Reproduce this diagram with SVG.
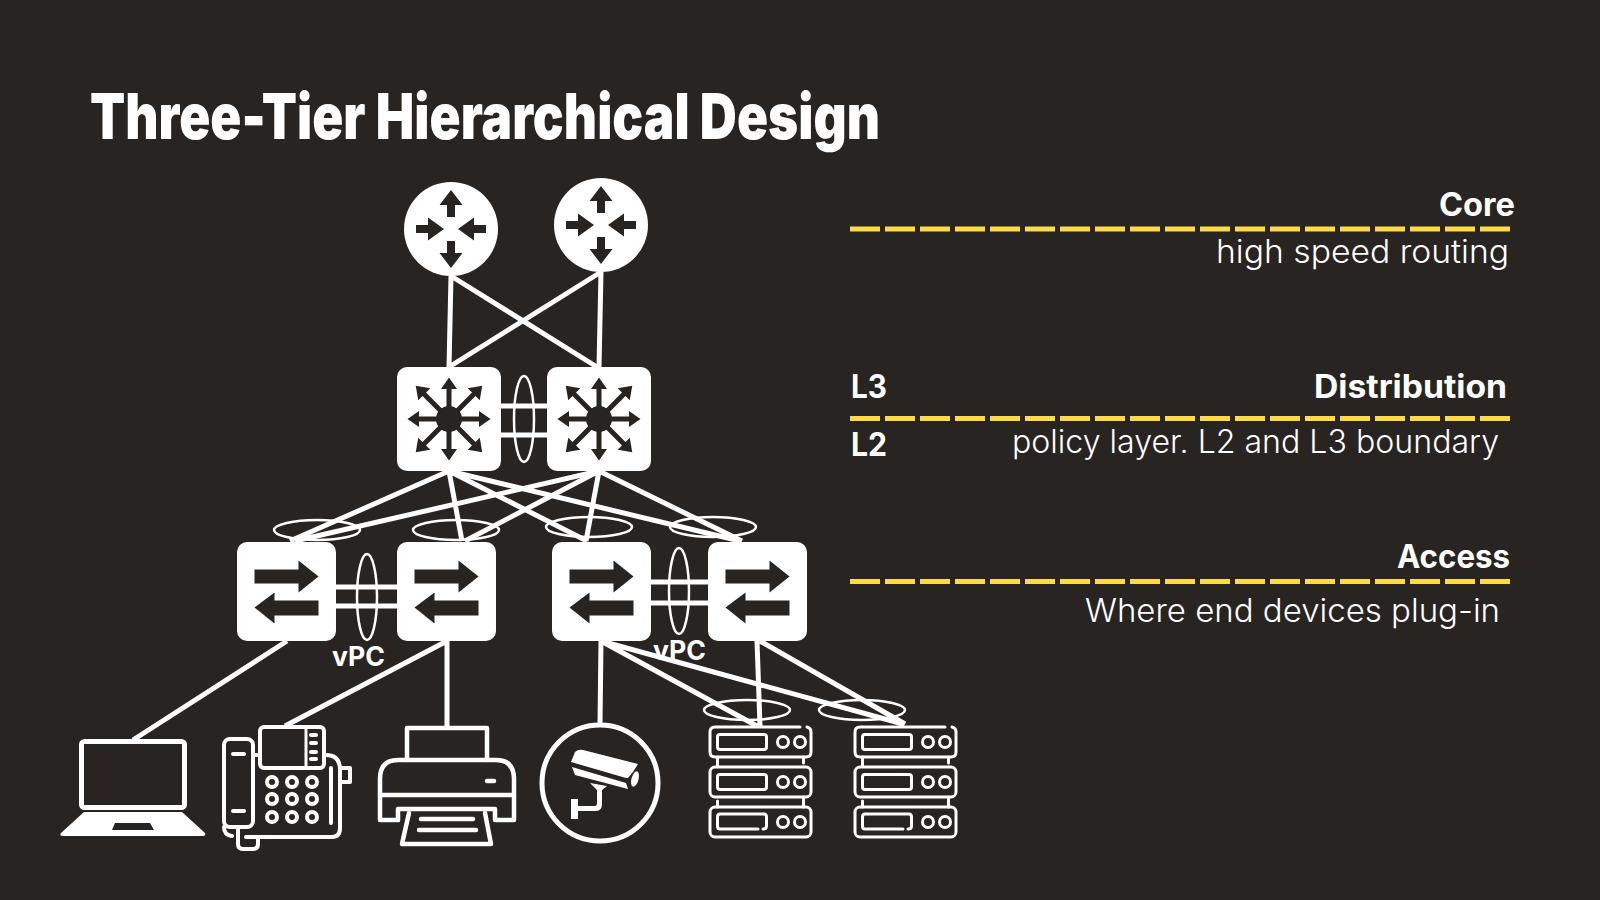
<svg xmlns="http://www.w3.org/2000/svg" width="1600" height="900" viewBox="0 0 1600 900">
<style>
text{fill:#fff;font-family:"Inter","Liberation Sans",sans-serif}
.b{font-weight:700;font-size:32px}
.v{font-weight:700;font-size:27px}
.r{font-weight:300;font-size:32px}
.l{stroke:#fff;stroke-width:5;fill:none}
.e{stroke:#fff;stroke-width:2.500;fill:none}
.d{stroke:#fddb45;stroke-width:5;stroke-dasharray:30 5;fill:none}
.w{fill:#fff}
.k{fill:#272421}
.o{fill:none;stroke:#fff;stroke-width:4;stroke-linejoin:round;stroke-linecap:round}
.s{fill:none;stroke:#fff;stroke-width:3;stroke-linejoin:round;stroke-linecap:round}
</style>
<defs>
<g id="swi"><rect class="w" x="-49.500" y="-49.500" width="99" height="99" rx="10"/>
<path class="k" d="M-32 -22H12V-31L32 -15L12 1V-8H-32Z"/>
<path class="k" d="M32 9H-12V1L-32 16L-12 32V24H32Z"/></g>
<path id="ro" class="k" d="M-4 -12V-24H-11.500L0 -39L11.500 -24H4V-12Z"/>
<path id="ri" class="k" d="M-4 -35V-23H-11.500L0 -7L11.500 -23H4V-35Z"/>
<g id="rt"><circle class="w" r="47"/>
<use href="#ro"/><use href="#ro" transform="rotate(180)"/><use href="#ri" transform="rotate(90)"/><use href="#ri" transform="rotate(270)"/></g>
<path id="da" class="k" d="M-2.500 -10V-30H-8L0 -41.500L8 -30H2.500V-10Z"/>
<path id="dd" class="k" d="M-2.500 -10V-35H-8.500L0 -47L8.500 -35H2.500V-10Z"/>
<g id="ds"><rect class="w" x="-52" y="-52" width="104" height="104" rx="10"/><circle class="k" r="13"/>
<use href="#da"/><use href="#dd" transform="rotate(45)"/><use href="#da" transform="rotate(90)"/><use href="#dd" transform="rotate(135)"/><use href="#da" transform="rotate(180)"/><use href="#dd" transform="rotate(225)"/><use href="#da" transform="rotate(270)"/><use href="#dd" transform="rotate(315)"/></g>
<g id="srv" class="s">
<path d="M91 1H6Q1 1 1 6V26Q1 31 6 31H97Q102 31 102 26V6Q102 2 98 1"/><rect x="8.500" y="8.500" width="49" height="15" rx="2.500"/><circle cx="74" cy="16" r="5.500"/><circle cx="91" cy="16" r="5.500"/>
<path d="M8.500 31V40M94.500 31V37"/>
<rect x="1" y="41" width="101" height="30" rx="5"/><rect x="8.500" y="48.500" width="49" height="15" rx="2.500"/><circle cx="74" cy="56" r="5.500"/><circle cx="91" cy="56" r="5.500"/>
<path d="M8.500 75V81M94.500 71V81"/>
<rect x="1" y="81" width="101" height="30" rx="5"/><path d="M49 103H11Q8.500 103 8.500 100V91Q8.500 88 11 88H55Q57.500 88 57.500 91V100Q57.500 103 54 103"/><circle cx="74" cy="96" r="5.500"/><circle cx="91" cy="96" r="5.500"/>
</g>
</defs>
<rect width="1600" height="900" fill="#272421"/>
<text id="title" x="90" y="138.500" font-size="63" font-weight="900" textLength="790" lengthAdjust="spacingAndGlyphs">Three-Tier Hierarchical Design</text>

<text id="vpc1" class="v" x="332" y="666" textLength="53" lengthAdjust="spacingAndGlyphs">vPC</text>
<text id="vpc2" class="v" x="653" y="660" textLength="53" lengthAdjust="spacingAndGlyphs">vPC</text>

<g id="connectors">
<path class="l" d="M451 276L449 367M451 276L597 367M601 272L449 367M601 272L599 367"/>
<path class="l" d="M500 406H547M500 435H547M336 587H397M336 606H397M651 582H708M651 603H708"/>
<path class="l" d="M449 471L290 541M449 471L462 541M449 471L587 541M449 471L740 541M599 471L295 541M599 471L465 541M599 471L586 541M599 471L742 541"/>
<path class="l" d="M287 641L133 740M447 641L285 726M447 641V726M601 641L600 724M601 641L757 726M601 641L903 724M757 641L760 726M760 641L905 724"/>
<g class="e">
<ellipse cx="524" cy="419" rx="10" ry="43"/><ellipse cx="367" cy="597" rx="10" ry="43"/><ellipse cx="679" cy="591" rx="10" ry="43"/>
<ellipse cx="317" cy="530" rx="43" ry="10"/><ellipse cx="456" cy="530" rx="43" ry="10"/><ellipse cx="589" cy="527" rx="43" ry="10"/><ellipse cx="713" cy="527" rx="43" ry="10"/>
<ellipse cx="747" cy="710" rx="43" ry="10"/><ellipse cx="862" cy="710" rx="43" ry="10"/>
</g>
</g>

<g id="core1" transform="translate(451,229)"><use href="#rt"/></g>
<g id="core2" transform="translate(601,225)"><use href="#rt"/></g>
<g id="dist1" transform="translate(449,419)"><use href="#ds"/></g>
<g id="dist2" transform="translate(599,419)"><use href="#ds"/></g>
<g id="acc1" transform="translate(286.500,591.500)"><use href="#swi"/></g>
<g id="acc2" transform="translate(446.500,591.500)"><use href="#swi"/></g>
<g id="acc3" transform="translate(601.500,591.500)"><use href="#swi"/></g>
<g id="acc4" transform="translate(757.500,591.500)"><use href="#swi"/></g>

<g id="laptop">
<rect x="81.500" y="741.500" width="103" height="66" rx="3" fill="none" stroke="#fff" stroke-width="5"/>
<path class="w" d="M84 812H182L205 833Q206 836 203 836H63Q59 836 61 833ZM115 823L112 830H154L150 823Z" fill-rule="evenodd"/>
</g>
<g id="phone" class="o">
<rect x="224" y="739" width="29" height="88" rx="6"/>
<path d="M233 754H244M233 811H244M253 755H259"/>
<rect x="260" y="727" width="64" height="41" rx="4"/><path d="M306 727V768" stroke-width="3"/>
<path d="M311 735H316M311 743H316M311 752H316M311 759H316"/>
<path d="M326 755Q340 755 340 770V828Q340 837 332 837H246"/>
<path d="M238 828V844Q238 849 243 849H253Q258 849 258 844V838M224 827Q224 835 232 836"/>
<path d="M331 768V823"/>
<path d="M341 768H350V782H341"/>
<g><circle cx="272" cy="782" r="5"/><circle cx="292" cy="782" r="5"/><circle cx="312" cy="782" r="5"/><circle cx="272" cy="799" r="5"/><circle cx="292" cy="799" r="5"/><circle cx="312" cy="799" r="5"/><circle cx="272" cy="817" r="5"/><circle cx="292" cy="817" r="5"/><circle cx="312" cy="817" r="5"/></g>
</g>
<g id="printer" class="o" style="stroke-width:4.500">
<path d="M407 760V728H487V760"/>
<path d="M398 820H380V779Q380 760 398 760H496Q514 760 514 779V820H496"/>
<path d="M380 795H514"/>
<path d="M398 820V809H495V820"/>
<path d="M409 813L402 844H491L485 813"/>
<path d="M421 819H473M419 830H476"/>
<path d="M487 781H494"/>
</g>
<g id="camera">
<circle cx="600" cy="783" r="58" fill="none" stroke="#fff" stroke-width="5"/>
<path class="w" d="M571 762L575 752Q578 749 583 750L638 764L633 772L628 778L626 778Z"/>
<path class="w" d="M572 767L626 783L628 789L575 775Z"/>
<ellipse class="w" cx="635" cy="779" rx="3.500" ry="8" transform="rotate(15 635 779)"/>
<path class="w" d="M590 783L607 786L602 790V804Q602 811 596 811H578V819H571V799H578V806H595Q597 806 597 803V790Z"/>
</g>
<g id="server1" transform="translate(709,726)"><use href="#srv"/></g>
<g id="server2" transform="translate(854,726)"><use href="#srv"/></g>

<g id="labels">
<path class="d" d="M850 229H1510"/>
<path class="d" d="M850 418.500H1510"/>
<path class="d" d="M850 581.500H1510"/>
<text class="b" x="1515" y="216" text-anchor="end" textLength="76" lengthAdjust="spacingAndGlyphs">Core</text>
<text class="r" x="1509" y="263" text-anchor="end" textLength="293" lengthAdjust="spacingAndGlyphs">high speed routing</text>
<text class="b" x="851" y="398" textLength="36" lengthAdjust="spacingAndGlyphs">L3</text>
<text class="b" x="1507" y="398" text-anchor="end" textLength="193" lengthAdjust="spacingAndGlyphs">Distribution</text>
<text class="b" x="851" y="456" textLength="36" lengthAdjust="spacingAndGlyphs">L2</text>
<text class="r" x="1499" y="453" text-anchor="end" textLength="487" lengthAdjust="spacingAndGlyphs">policy layer. L2 and L3 boundary</text>
<text class="b" x="1510" y="568" text-anchor="end" textLength="113" lengthAdjust="spacingAndGlyphs">Access</text>
<text class="r" x="1500" y="622" text-anchor="end" textLength="415" lengthAdjust="spacingAndGlyphs">Where end devices plug-in</text>
</g>
</svg>
